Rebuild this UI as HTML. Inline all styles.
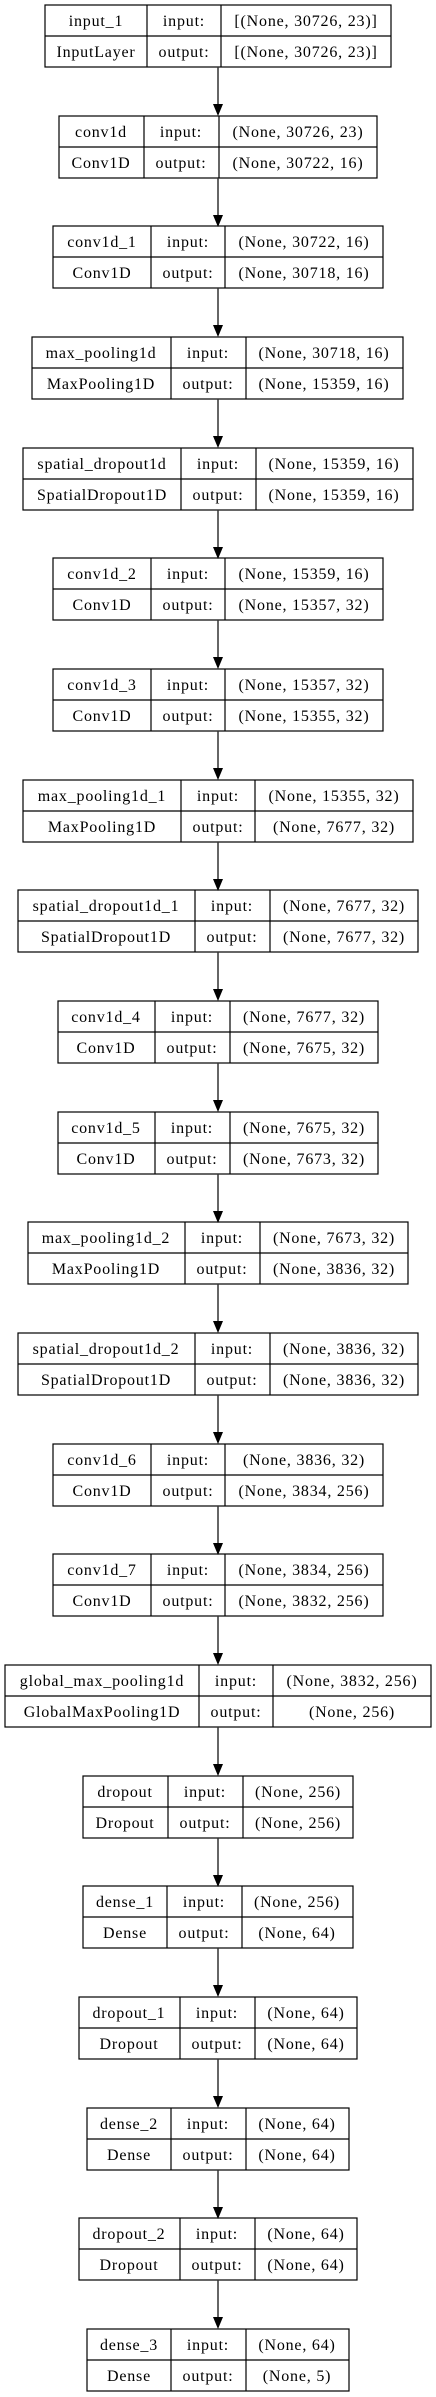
<!DOCTYPE html>
<html><head><meta charset="utf-8"><style>
html,body{margin:0;padding:0;background:#fff;}
svg{display:block;}
text{font-family:"Liberation Serif",serif;font-size:16px;letter-spacing:0.8px;fill:#000;text-anchor:middle;}
rect,line.d{stroke:#000;stroke-width:1.2;fill:none;}
line.a{stroke:#333;stroke-width:1.5;}
polygon{fill:#000;}
</style></head><body>
<svg width="436" height="2397" viewBox="0 0 436 2397" xmlns="http://www.w3.org/2000/svg">
<defs>
<g id="arr"><line class="a" x1="218" y1="0" x2="218" y2="38"/><polygon points="213,37 223,37 218,49"/></g>
</defs>
<g transform="translate(0,5)"><rect x="45" y="0" width="346" height="62"/><line class="d" x1="45" y1="31" x2="391" y2="31"/><line class="d" x1="147" y1="0" x2="147" y2="62"/><line class="d" x1="221" y1="0" x2="221" y2="62"/><text x="96" y="21">input_1</text><text x="96" y="52">InputLayer</text><text x="184" y="21">input:</text><text x="184" y="52">output:</text><text x="306" y="21">[(None, 30726, 23)]</text><text x="306" y="52">[(None, 30726, 23)]</text></g>
<use href="#arr" y="67"/>
<g transform="translate(0,116)"><rect x="59" y="0" width="318" height="62"/><line class="d" x1="59" y1="31" x2="377" y2="31"/><line class="d" x1="144" y1="0" x2="144" y2="62"/><line class="d" x1="219" y1="0" x2="219" y2="62"/><text x="101" y="21">conv1d</text><text x="101" y="52">Conv1D</text><text x="181" y="21">input:</text><text x="181" y="52">output:</text><text x="298" y="21">(None, 30726, 23)</text><text x="298" y="52">(None, 30722, 16)</text></g>
<use href="#arr" y="178"/>
<g transform="translate(0,226)"><rect x="53" y="0" width="330" height="62"/><line class="d" x1="53" y1="31" x2="383" y2="31"/><line class="d" x1="151" y1="0" x2="151" y2="62"/><line class="d" x1="225" y1="0" x2="225" y2="62"/><text x="102" y="21">conv1d_1</text><text x="102" y="52">Conv1D</text><text x="188" y="21">input:</text><text x="188" y="52">output:</text><text x="304" y="21">(None, 30722, 16)</text><text x="304" y="52">(None, 30718, 16)</text></g>
<use href="#arr" y="288"/>
<g transform="translate(0,337)"><rect x="32" y="0" width="371" height="62"/><line class="d" x1="32" y1="31" x2="403" y2="31"/><line class="d" x1="171" y1="0" x2="171" y2="62"/><line class="d" x1="246" y1="0" x2="246" y2="62"/><text x="101" y="21">max_pooling1d</text><text x="101" y="52">MaxPooling1D</text><text x="208" y="21">input:</text><text x="208" y="52">output:</text><text x="324" y="21">(None, 30718, 16)</text><text x="324" y="52">(None, 15359, 16)</text></g>
<use href="#arr" y="399"/>
<g transform="translate(0,448)"><rect x="23" y="0" width="390" height="62"/><line class="d" x1="23" y1="31" x2="413" y2="31"/><line class="d" x1="181" y1="0" x2="181" y2="62"/><line class="d" x1="256" y1="0" x2="256" y2="62"/><text x="102" y="21">spatial_dropout1d</text><text x="102" y="52">SpatialDropout1D</text><text x="218" y="21">input:</text><text x="218" y="52">output:</text><text x="334" y="21">(None, 15359, 16)</text><text x="334" y="52">(None, 15359, 16)</text></g>
<use href="#arr" y="510"/>
<g transform="translate(0,558)"><rect x="53" y="0" width="330" height="62"/><line class="d" x1="53" y1="31" x2="383" y2="31"/><line class="d" x1="151" y1="0" x2="151" y2="62"/><line class="d" x1="225" y1="0" x2="225" y2="62"/><text x="102" y="21">conv1d_2</text><text x="102" y="52">Conv1D</text><text x="188" y="21">input:</text><text x="188" y="52">output:</text><text x="304" y="21">(None, 15359, 16)</text><text x="304" y="52">(None, 15357, 32)</text></g>
<use href="#arr" y="620"/>
<g transform="translate(0,669)"><rect x="53" y="0" width="330" height="62"/><line class="d" x1="53" y1="31" x2="383" y2="31"/><line class="d" x1="151" y1="0" x2="151" y2="62"/><line class="d" x1="225" y1="0" x2="225" y2="62"/><text x="102" y="21">conv1d_3</text><text x="102" y="52">Conv1D</text><text x="188" y="21">input:</text><text x="188" y="52">output:</text><text x="304" y="21">(None, 15357, 32)</text><text x="304" y="52">(None, 15355, 32)</text></g>
<use href="#arr" y="731"/>
<g transform="translate(0,780)"><rect x="23" y="0" width="390" height="62"/><line class="d" x1="23" y1="31" x2="413" y2="31"/><line class="d" x1="181" y1="0" x2="181" y2="62"/><line class="d" x1="255" y1="0" x2="255" y2="62"/><text x="102" y="21">max_pooling1d_1</text><text x="102" y="52">MaxPooling1D</text><text x="218" y="21">input:</text><text x="218" y="52">output:</text><text x="334" y="21">(None, 15355, 32)</text><text x="334" y="52">(None, 7677, 32)</text></g>
<use href="#arr" y="842"/>
<g transform="translate(0,890)"><rect x="18" y="0" width="400" height="62"/><line class="d" x1="18" y1="31" x2="418" y2="31"/><line class="d" x1="195" y1="0" x2="195" y2="62"/><line class="d" x1="270" y1="0" x2="270" y2="62"/><text x="106" y="21">spatial_dropout1d_1</text><text x="106" y="52">SpatialDropout1D</text><text x="232" y="21">input:</text><text x="232" y="52">output:</text><text x="344" y="21">(None, 7677, 32)</text><text x="344" y="52">(None, 7677, 32)</text></g>
<use href="#arr" y="952"/>
<g transform="translate(0,1001)"><rect x="58" y="0" width="320" height="62"/><line class="d" x1="58" y1="31" x2="378" y2="31"/><line class="d" x1="155" y1="0" x2="155" y2="62"/><line class="d" x1="230" y1="0" x2="230" y2="62"/><text x="106" y="21">conv1d_4</text><text x="106" y="52">Conv1D</text><text x="192" y="21">input:</text><text x="192" y="52">output:</text><text x="304" y="21">(None, 7677, 32)</text><text x="304" y="52">(None, 7675, 32)</text></g>
<use href="#arr" y="1063"/>
<g transform="translate(0,1112)"><rect x="58" y="0" width="320" height="62"/><line class="d" x1="58" y1="31" x2="378" y2="31"/><line class="d" x1="155" y1="0" x2="155" y2="62"/><line class="d" x1="230" y1="0" x2="230" y2="62"/><text x="106" y="21">conv1d_5</text><text x="106" y="52">Conv1D</text><text x="192" y="21">input:</text><text x="192" y="52">output:</text><text x="304" y="21">(None, 7675, 32)</text><text x="304" y="52">(None, 7673, 32)</text></g>
<use href="#arr" y="1174"/>
<g transform="translate(0,1222)"><rect x="28" y="0" width="380" height="62"/><line class="d" x1="28" y1="31" x2="408" y2="31"/><line class="d" x1="185" y1="0" x2="185" y2="62"/><line class="d" x1="260" y1="0" x2="260" y2="62"/><text x="106" y="21">max_pooling1d_2</text><text x="106" y="52">MaxPooling1D</text><text x="222" y="21">input:</text><text x="222" y="52">output:</text><text x="334" y="21">(None, 7673, 32)</text><text x="334" y="52">(None, 3836, 32)</text></g>
<use href="#arr" y="1284"/>
<g transform="translate(0,1333)"><rect x="18" y="0" width="400" height="62"/><line class="d" x1="18" y1="31" x2="418" y2="31"/><line class="d" x1="195" y1="0" x2="195" y2="62"/><line class="d" x1="270" y1="0" x2="270" y2="62"/><text x="106" y="21">spatial_dropout1d_2</text><text x="106" y="52">SpatialDropout1D</text><text x="232" y="21">input:</text><text x="232" y="52">output:</text><text x="344" y="21">(None, 3836, 32)</text><text x="344" y="52">(None, 3836, 32)</text></g>
<use href="#arr" y="1395"/>
<g transform="translate(0,1444)"><rect x="53" y="0" width="330" height="62"/><line class="d" x1="53" y1="31" x2="383" y2="31"/><line class="d" x1="151" y1="0" x2="151" y2="62"/><line class="d" x1="225" y1="0" x2="225" y2="62"/><text x="102" y="21">conv1d_6</text><text x="102" y="52">Conv1D</text><text x="188" y="21">input:</text><text x="188" y="52">output:</text><text x="304" y="21">(None, 3836, 32)</text><text x="304" y="52">(None, 3834, 256)</text></g>
<use href="#arr" y="1506"/>
<g transform="translate(0,1554)"><rect x="53" y="0" width="330" height="62"/><line class="d" x1="53" y1="31" x2="383" y2="31"/><line class="d" x1="151" y1="0" x2="151" y2="62"/><line class="d" x1="225" y1="0" x2="225" y2="62"/><text x="102" y="21">conv1d_7</text><text x="102" y="52">Conv1D</text><text x="188" y="21">input:</text><text x="188" y="52">output:</text><text x="304" y="21">(None, 3834, 256)</text><text x="304" y="52">(None, 3832, 256)</text></g>
<use href="#arr" y="1616"/>
<g transform="translate(0,1665)"><rect x="5" y="0" width="426" height="62"/><line class="d" x1="5" y1="31" x2="431" y2="31"/><line class="d" x1="199" y1="0" x2="199" y2="62"/><line class="d" x1="273" y1="0" x2="273" y2="62"/><text x="102" y="21">global_max_pooling1d</text><text x="102" y="52">GlobalMaxPooling1D</text><text x="236" y="21">input:</text><text x="236" y="52">output:</text><text x="352" y="21">(None, 3832, 256)</text><text x="352" y="52">(None, 256)</text></g>
<use href="#arr" y="1727"/>
<g transform="translate(0,1776)"><rect x="83" y="0" width="270" height="62"/><line class="d" x1="83" y1="31" x2="353" y2="31"/><line class="d" x1="168" y1="0" x2="168" y2="62"/><line class="d" x1="243" y1="0" x2="243" y2="62"/><text x="125" y="21">dropout</text><text x="125" y="52">Dropout</text><text x="205" y="21">input:</text><text x="205" y="52">output:</text><text x="298" y="21">(None, 256)</text><text x="298" y="52">(None, 256)</text></g>
<use href="#arr" y="1838"/>
<g transform="translate(0,1886)"><rect x="83" y="0" width="270" height="62"/><line class="d" x1="83" y1="31" x2="353" y2="31"/><line class="d" x1="167" y1="0" x2="167" y2="62"/><line class="d" x1="242" y1="0" x2="242" y2="62"/><text x="125" y="21">dense_1</text><text x="125" y="52">Dense</text><text x="204" y="21">input:</text><text x="204" y="52">output:</text><text x="297" y="21">(None, 256)</text><text x="297" y="52">(None, 64)</text></g>
<use href="#arr" y="1948"/>
<g transform="translate(0,1997)"><rect x="79" y="0" width="278" height="62"/><line class="d" x1="79" y1="31" x2="357" y2="31"/><line class="d" x1="180" y1="0" x2="180" y2="62"/><line class="d" x1="255" y1="0" x2="255" y2="62"/><text x="129" y="21">dropout_1</text><text x="129" y="52">Dropout</text><text x="217" y="21">input:</text><text x="217" y="52">output:</text><text x="306" y="21">(None, 64)</text><text x="306" y="52">(None, 64)</text></g>
<use href="#arr" y="2059"/>
<g transform="translate(0,2108)"><rect x="87" y="0" width="262" height="62"/><line class="d" x1="87" y1="31" x2="349" y2="31"/><line class="d" x1="171" y1="0" x2="171" y2="62"/><line class="d" x1="246" y1="0" x2="246" y2="62"/><text x="129" y="21">dense_2</text><text x="129" y="52">Dense</text><text x="208" y="21">input:</text><text x="208" y="52">output:</text><text x="297" y="21">(None, 64)</text><text x="297" y="52">(None, 64)</text></g>
<use href="#arr" y="2170"/>
<g transform="translate(0,2218)"><rect x="79" y="0" width="278" height="62"/><line class="d" x1="79" y1="31" x2="357" y2="31"/><line class="d" x1="180" y1="0" x2="180" y2="62"/><line class="d" x1="255" y1="0" x2="255" y2="62"/><text x="129" y="21">dropout_2</text><text x="129" y="52">Dropout</text><text x="217" y="21">input:</text><text x="217" y="52">output:</text><text x="306" y="21">(None, 64)</text><text x="306" y="52">(None, 64)</text></g>
<use href="#arr" y="2280"/>
<g transform="translate(0,2329)"><rect x="87" y="0" width="262" height="62"/><line class="d" x1="87" y1="31" x2="349" y2="31"/><line class="d" x1="171" y1="0" x2="171" y2="62"/><line class="d" x1="246" y1="0" x2="246" y2="62"/><text x="129" y="21">dense_3</text><text x="129" y="52">Dense</text><text x="208" y="21">input:</text><text x="208" y="52">output:</text><text x="297" y="21">(None, 64)</text><text x="297" y="52">(None, 5)</text></g>
</svg>
</body></html>
